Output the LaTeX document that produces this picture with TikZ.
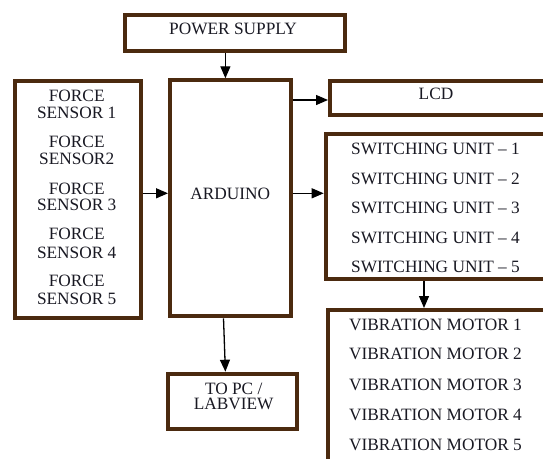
\documentclass[tikz,border=0pt]{standalone}
\usepackage{fontspec}
\setmainfont{Liberation Serif}
\usetikzlibrary{arrows.meta}
\definecolor{brn}{RGB}{75,42,15}
\definecolor{ink}{RGB}{25,25,35}
\begin{document}
\begin{tikzpicture}[x=1pt,y=-1pt,
  box/.style={draw=brn,line width=4pt,inner sep=0pt,fill=white},
  lbl/.style={font=\fontsize{17.3}{17.3}\selectfont,inner sep=0pt,anchor=base,text=ink},
  arr/.style={-{Triangle[length=12pt,width=10pt]},line width=1.3pt,draw=black}]
\useasboundingbox (0,0) rectangle (543,458);
\clip (0,0) rectangle (543,458);
\fill[white] (0,0) rectangle (543,458);
% boxes
\node[box,minimum width=220pt,minimum height=36pt] (ps) at (235,33) {};
\node[box,minimum width=126.3pt,minimum height=236.7pt] (fs) at (77.85,199.65) {};
\node[box,minimum width=120.6pt,minimum height=236pt] (ard) at (230.3,198.3) {};
\node[box,minimum width=248pt,minimum height=34pt] (lcd) at (454,98.3) {};
\node[box,minimum width=252.3pt,minimum height=145.5pt] (su) at (451.85,206.25) {};
\node[box,minimum width=250.5pt,minimum height=188pt] (vm) at (452.75,404) {};
\node[box,minimum width=128.5pt,minimum height=55.3pt] (pc) at (232.25,401.35) {};
% texts
\node[lbl] (pst) at (233,34) {POWER SUPPLY};
\node[lbl] (ardt) at (230.3,199) {ARDUINO};
\node[lbl] (lcdt) at (436,99) {LCD};
\node[lbl] (pct1) at (233.7,394) {TO PC /};
\node[lbl] (pct2) at (233.7,409.7) {LABVIEW};
\foreach \i/\ya/\yb in {1/95.7/112.3, 2/141.7/159, 3/188.3/205, 4/234/252.3, 5/281/298.3}{
  \node[lbl] (fa\i) at (76.7,\ya+5.7) {FORCE};
}
\node[lbl] (fb1) at (76.7,118) {SENSOR 1};
\node[lbl] (fb2) at (76.7,164.7) {SENSOR2};
\node[lbl] (fb3) at (76.7,210.7) {SENSOR 3};
\node[lbl] (fb4) at (76.7,258) {SENSOR 4};
\node[lbl] (fb5) at (76.7,304) {SENSOR 5};
\foreach \i/\y in {1/148.3, 2/178.3, 3/207.7, 4/237.3, 5/266.7}{
  \node[lbl] (sut\i) at (435.5,\y+5.7) {SWITCHING UNIT -- \i};
}
\foreach \i/\y in {1/325, 2/353.3, 3/385, 4/415, 5/445}{
  \node[lbl] (vmt\i) at (435.5,\y+5.7) {VIBRATION MOTOR \i};
}
% connector helper coordinates
\coordinate (xps) at (225.4,0);
\coordinate (ylcd) at (0,100);
\coordinate (ymid) at (0,193.3);
\coordinate (xsu) at (424,0);
\coordinate (xpc1) at (223.5,0);
\coordinate (xpc2) at (225.4,0);
% connectors
\draw[arr] (ps.south -| xps) -- (ard.north -| xps);
\draw[arr] (fs.east |- ymid) -- (ard.west |- ymid);
\draw[arr] (ard.east |- ylcd) -- (lcd.west |- ylcd);
\draw[arr] (ard.east |- ymid) -- (su.west |- ymid);
\draw[arr] (su.south -| xsu) -- (vm.north -| xsu);
\draw[arr] (ard.south -| xpc1) -- (pc.north -| xpc2);
\end{tikzpicture}
\end{document}
